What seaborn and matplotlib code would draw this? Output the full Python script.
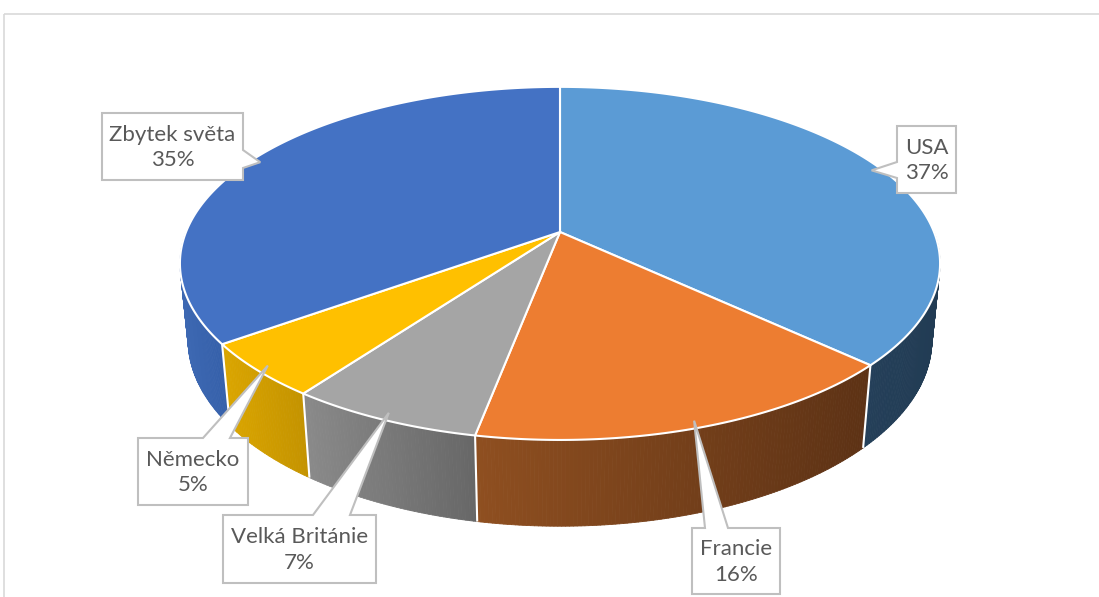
import numpy as np
import matplotlib
matplotlib.use("Agg")
import matplotlib.pyplot as plt
import seaborn as sns
from matplotlib.patches import Polygon, Rectangle
from matplotlib.collections import PolyCollection
from matplotlib.colors import to_rgb

# ---------------- data ----------------
categories = ["USA", "Francie", "Velká Británie", "Německo", "Zbytek světa"]
shares = [37, 16, 7, 5, 35]
pct_labels = ["37%", "16%", "7%", "5%", "35%"]

# ---------------- styles ----------------
top_colors = ["#5B9BD5", "#ED7D31", "#A5A5A5", "#FFC000", "#4472C4"]
wall_light = ["#243F59", "#8F4F20", "#8A8A8A", "#DBA600", "#3E69B3"]
wall_dark = ["#223C54", "#5D3215", "#676767", "#C49300", "#3560AA"]

# callout layout (box x0, y0, x1, y1 in pixels, side of pointer, pointer base span)
callouts = [
    ((897, 126, 956, 193), "left", (162, 178)),
    ((692, 528, 780, 594), "top", (705, 728)),
    ((223, 515, 376, 583), "top", (313, 350)),
    ((138, 438, 248, 505), "top", (203, 230)),
    ((102, 113, 243, 180), "right", (150, 168)),
]

sns.set_theme(style="white")
plt.rcParams["font.family"] = ["Lato", "DejaVu Sans"]

W, H = 1099, 597
fig = plt.figure(figsize=(W / 100, H / 100), dpi=100)
ax = fig.add_axes([0, 0, 1, 1])
ax.set_xlim(0, W)
ax.set_ylim(H, 0)
ax.axis("off")

# chart-area border
ax.add_patch(Rectangle((4, 14), 1300, 800, fill=False, edgecolor="#D9D9D9", lw=1.2, zorder=0))

# ---------------- 3D projection ----------------
CX, CY = 560.0, 232.0
S = 374.0
RHO = 0.2
ELEV = np.radians(27.2)
THICK = 0.232


def proj(theta_deg, z=0.0, r=1.0):
    t = np.radians(np.asarray(theta_deg, dtype=float))
    X = r * np.cos(t)
    Y = r * np.sin(t)
    den = 1 + RHO * (Y * np.cos(ELEV) - z * np.sin(ELEV))
    u = S * X / den
    v = S * (Y * np.sin(ELEV) + z * np.cos(ELEV)) / den
    return CX + u, CY - v


fr = np.array(shares, dtype=float) / np.sum(shares)
cum = np.concatenate([[0.0], np.cumsum(fr)])
starts = 90 - 360 * cum[:-1]
ends = 90 - 360 * cum[1:]

# ---------------- side walls ----------------
strips = []
for i in range(len(shares)):
    hi = min(starts[i], 0.0)
    lo = max(ends[i], -180.0)
    if hi <= lo:
        continue
    n = max(int((hi - lo) * 2), 2)
    th = np.linspace(hi, lo, n + 1)
    xt, yt = proj(th, 0.0)
    xb, yb = proj(th, -THICK)
    xmin, xmax = xt.min(), xt.max()
    cl = np.array(to_rgb(wall_light[i]))
    cd = np.array(to_rgb(wall_dark[i]))
    for k in range(n):
        quad = [(xt[k], yt[k]), (xt[k + 1], yt[k + 1]), (xb[k + 1], yb[k + 1]), (xb[k], yb[k])]
        xm = 0.5 * (xt[k] + xt[k + 1])
        tt = (xm - xmin) / (xmax - xmin) if xmax > xmin else 0
        col = cl * (1 - tt) + cd * tt
        depth = np.sin(np.radians(0.5 * (th[k] + th[k + 1])))
        strips.append((depth, quad, col))

strips.sort(key=lambda s: -s[0])
pc = PolyCollection([s[1] for s in strips], facecolors=[s[2] for s in strips],
                    edgecolors=[s[2] for s in strips], linewidths=0.6, zorder=2)
ax.add_collection(pc)

# seams between slices on the wall
for b in ends[:-1]:
    if -180 < b < 0:
        x0, y0 = proj(b, 0.0)
        x1, y1 = proj(b, -THICK)
        ax.plot([x0, x1], [y0, y1], color="white", lw=1.5, zorder=3, solid_capstyle="butt")

# ---------------- top faces ----------------
for i in range(len(shares)):
    n = max(int(abs(starts[i] - ends[i]) * 2), 4)
    th = np.linspace(starts[i], ends[i], n + 1)
    xs, ys = proj(th, 0.0)
    pts = [(CX, CY)] + list(zip(xs, ys))
    ax.add_patch(Polygon(pts, closed=True, facecolor=top_colors[i], edgecolor="white",
                         lw=1.5, joinstyle="round", zorder=4))

# ---------------- callouts ----------------
for i, (box, side, (a, b)) in enumerate(callouts):
    x0, y0, x1, y1 = box
    mid = 0.5 * (starts[i] + ends[i])
    tx, ty = proj(mid, 0.0, r=0.97)
    tip = (float(tx), float(ty))
    if side == "top":
        verts = [(x0, y0), (a, y0), tip, (b, y0), (x1, y0), (x1, y1), (x0, y1)]
    elif side == "right":
        verts = [(x0, y0), (x1, y0), (x1, a), tip, (x1, b), (x1, y1), (x0, y1)]
    else:
        verts = [(x0, y0), (x1, y0), (x1, y1), (x0, y1), (x0, b), tip, (x0, a)]
    ax.add_patch(Polygon(verts, closed=True, facecolor="white", edgecolor="#BFBFBF",
                         lw=1.5, joinstyle="miter", zorder=6))
    ax.text(0.5 * (x0 + x1), 0.5 * (y0 + y1) + 1, f"{categories[i]}\n{pct_labels[i]}",
            ha="center", va="center", fontsize=16, color="#595959",
            linespacing=1.35, zorder=7)

fig.savefig("out.png", dpi=100)
